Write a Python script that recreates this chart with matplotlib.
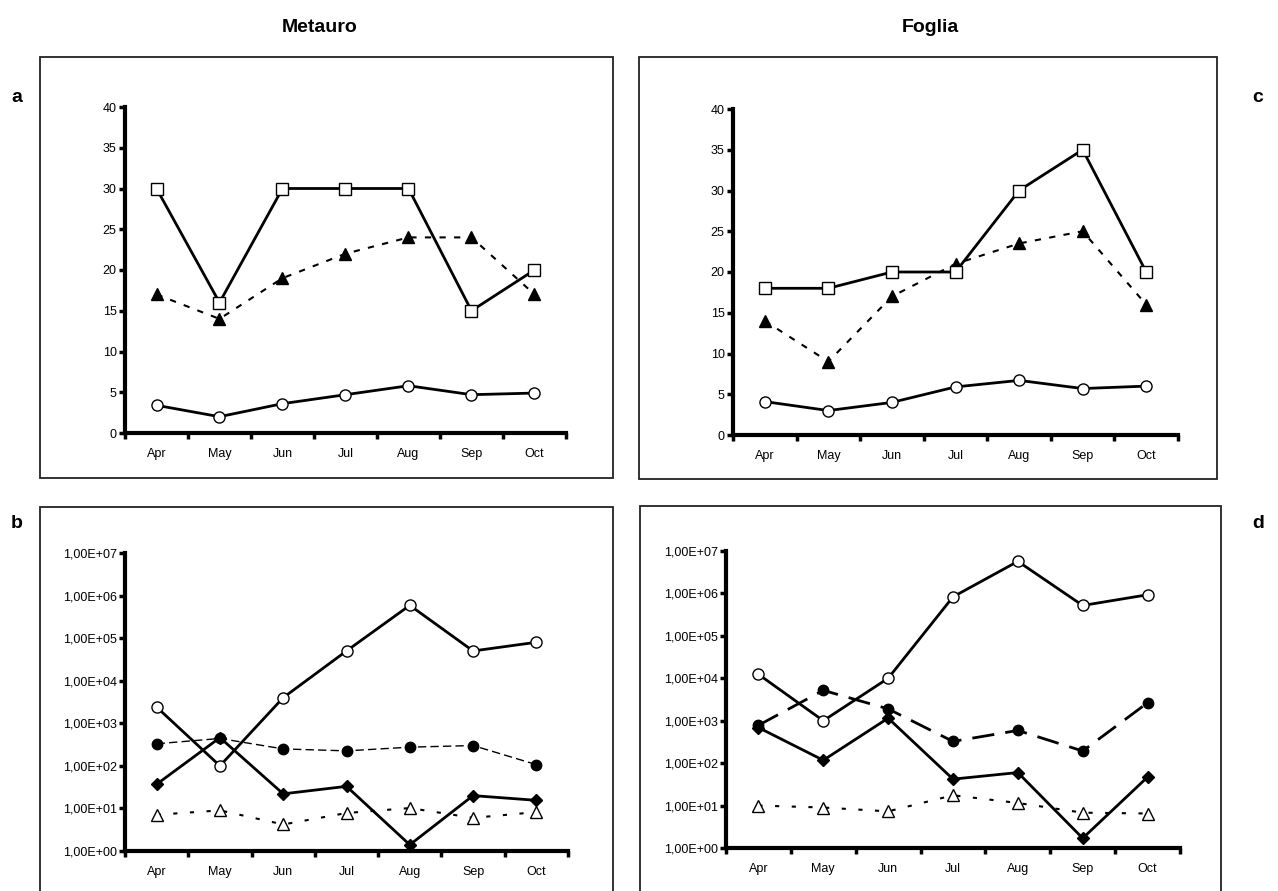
import matplotlib
matplotlib.use("Agg")
import matplotlib.pyplot as plt
from matplotlib.patches import Rectangle
import numpy as np

plt.rcParams['font.family'] = ['Liberation Sans', 'DejaVu Sans']

months = ["Apr", "May", "Jun", "Jul", "Aug", "Sep", "Oct"]

# Metauro (top left, a)
met_square = [30, 16, 30, 30, 30, 15, 20]
met_triangle = [17, 14, 19, 22, 24, 24, 17]
met_circle = [3.4, 2.0, 3.6, 4.7, 5.8, 4.7, 4.9]

# Foglia (top right, c)
fog_square = [18, 18, 20, 20, 30, 35, 20]
fog_triangle = [14, 9, 17, 21, 23.5, 25, 16]
fog_circle = [4.1, 3.0, 4.0, 5.9, 6.7, 5.7, 6.0]

# Metauro (bottom left, b) - log scale
met_open_circle = [2400, 100, 4000, 50000, 590000, 50000, 80000]
met_filled_circle = [330, 440, 250, 225, 275, 300, 107]
met_diamond = [37, 460, 22, 33, 1.4, 20, 15.5]
met_open_triangle = [7.1, 9.0, 4.2, 7.8, 10.2, 6.0, 8.2]

# Foglia (bottom right, d) - log scale
fog_open_circle = [12400, 1000, 10000, 830000, 5700000, 520000, 930000]
fog_filled_circle = [780, 5200, 1900, 325, 590, 193, 2650]
fog_diamond = [690, 117, 1150, 42, 60, 1.7, 47]
fog_open_triangle = [10, 9, 7.3, 17.5, 11.5, 6.8, 6.5]

W, H = 1278, 891
fig = plt.figure(figsize=(W / 100, H / 100), dpi=100)


def px_axes(left, right, top, bottom):
    return fig.add_axes([left / W, 1 - bottom / H, (right - left) / W, (bottom - top) / H])


def px_box(left, right, top, bottom):
    fig.patches.append(Rectangle((left / W, 1 - bottom / H), (right - left) / W, (bottom - top) / H,
                                 transform=fig.transFigure, fill=False, edgecolor='#222222',
                                 linewidth=1.3, zorder=0))


def style_axes(ax):
    x = np.arange(len(months))
    ax.set_xlim(-0.5, len(months) - 0.5)
    ax.set_xticks(x)
    ax.set_xticklabels(months, fontsize=9)
    ax.set_xticks(np.arange(-0.5, len(months)), minor=True)
    ax.tick_params(axis='x', which='major', length=0, pad=11)
    ax.tick_params(axis='x', which='minor', length=4, width=2.5, direction='out')
    ax.tick_params(axis='y', which='major', length=4, width=2.5, direction='out', labelsize=9, pad=2)
    ax.tick_params(axis='y', which='minor', length=0)
    for s in ['top', 'right']:
        ax.spines[s].set_visible(False)
    for s in ['left', 'bottom']:
        ax.spines[s].set_linewidth(3)
    ax.patch.set_alpha(0)


x = np.arange(len(months))
ms = 8


def linear_panel(ax, sq, tri, cir):
    ax.plot(x, tri, color='black', lw=1.5, dashes=(3, 4), marker='^', ms=ms,
            mfc='black', mec='black', zorder=2)
    ax.plot(x, sq, color='black', lw=2, marker='s', ms=ms, mfc='white', mec='black',
            mew=1, zorder=3)
    ax.plot(x, cir, color='black', lw=2, marker='o', ms=ms, mfc='white', mec='black',
            mew=1, zorder=3)
    ax.set_ylim(0, 40)
    ax.set_yticks(range(0, 41, 5))
    style_axes(ax)


def log_panel(ax, oc, fc, dia, otri, fc_dashes, fc_lw):
    ax.set_yscale('log')
    ax.plot(x, otri, color='black', lw=1.5, dashes=(2, 6), marker='^', ms=ms,
            mfc='white', mec='black', mew=1, zorder=2)
    ax.plot(x, fc, color='black', lw=fc_lw, dashes=fc_dashes, marker='o', ms=7.5,
            mfc='black', mec='black', zorder=2)
    ax.plot(x, dia, color='black', lw=2, marker='D', ms=6, mfc='black', mec='black', zorder=3)
    ax.plot(x, oc, color='black', lw=2, marker='o', ms=ms, mfc='white', mec='black',
            mew=1, zorder=3)
    ax.set_ylim(1, 1e7)
    ticks = [10.0 ** k for k in range(8)]
    ax.set_yticks(ticks)
    ax.set_yticklabels(["1,00E+%02d" % k for k in range(8)])
    style_axes(ax)


# frames around each panel
px_box(40, 613, 57, 478)
px_box(639, 1217, 57, 479)
px_box(40, 613, 507, 895)
px_box(640, 1221, 506, 895)

ax_a = px_axes(125, 566, 107, 433)
linear_panel(ax_a, met_square, met_triangle, met_circle)

ax_c = px_axes(733, 1178, 109, 435)
linear_panel(ax_c, fog_square, fog_triangle, fog_circle)

ax_b = px_axes(125, 568, 553, 851)
log_panel(ax_b, met_open_circle, met_filled_circle, met_diamond, met_open_triangle, (6, 3), 1.0)

ax_d = px_axes(726, 1180, 551, 848)
log_panel(ax_d, fog_open_circle, fog_filled_circle, fog_diamond, fog_open_triangle, (8, 4), 2.0)

fig.text(320 / W, 1 - 28 / H, "Metauro", ha='center', va='center', fontsize=14, fontweight='bold')
fig.text(930 / W, 1 - 28 / H, "Foglia", ha='center', va='center', fontsize=14, fontweight='bold')
for lab, (px, py) in {"a": (17, 98), "b": (17, 523), "c": (1258, 98), "d": (1258, 523)}.items():
    fig.text(px / W, 1 - py / H, lab, ha='center', va='center', fontsize=14, fontweight='bold')

fig.savefig("out.png", dpi=100)
